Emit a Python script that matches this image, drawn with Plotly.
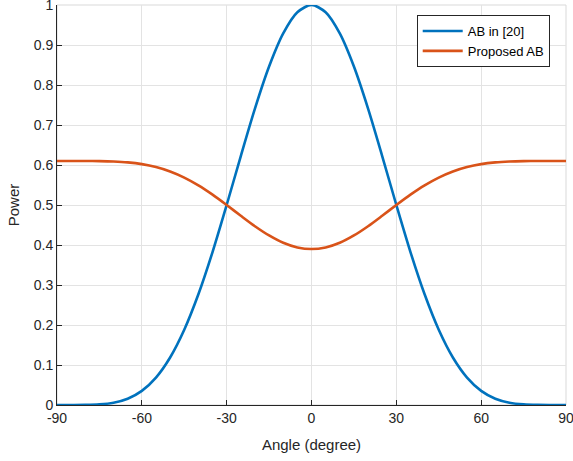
import plotly.graph_objects as go

angles = [-90, -85, -80, -75, -70, -65, -60, -55, -50, -45, -40, -35, -30, -25, -20, -15, -10, -5,
          0, 5, 10, 15, 20, 25, 30, 35, 40, 45, 50, 55, 60, 65, 70, 75, 80, 85, 90]

ab_half = [0.0, 0.0, 0.0002, 0.0015, 0.0057, 0.0157, 0.0354, 0.0686, 0.1188, 0.1882, 0.2768,
           0.3823, 0.5, 0.6224, 0.7409, 0.8461, 0.9289, 0.9818]
ab_ref = ab_half + [1.0] + ab_half[::-1]

prop_half = [0.61, 0.61, 0.61, 0.6097, 0.6087, 0.6065, 0.6022, 0.5949, 0.5839, 0.5686, 0.5491,
             0.5259, 0.5, 0.4731, 0.447, 0.4239, 0.4056, 0.394]
ab_prop = prop_half + [0.39] + prop_half[::-1]

x_ticks = [-90, -60, -30, 0, 30, 60, 90]
x_labels = ["-90", "-60", "-30", "0", "30", "60", "90"]
y_ticks = [0, 0.1, 0.2, 0.3, 0.4, 0.5, 0.6, 0.7, 0.8, 0.9, 1]
y_labels = ["0", "0.1", "0.2", "0.3", "0.4", "0.5", "0.6", "0.7", "0.8", "0.9", "1"]

fig = go.Figure()
fig.add_trace(go.Scatter(x=angles, y=ab_ref, mode="lines", name="AB in [20]",
                         line=dict(color="#0072BD", width=2.6, shape="spline", smoothing=0.8)))
fig.add_trace(go.Scatter(x=angles, y=ab_prop, mode="lines", name="Proposed AB",
                         line=dict(color="#D95319", width=2.6, shape="spline", smoothing=0.8)))

fig.add_shape(type="rect", xref="paper", yref="paper", x0=0, y0=0, x1=1, y1=1,
              line=dict(color="#d9d9d9", width=1), layer="below")

fig.update_layout(
    width=573, height=461,
    margin=dict(l=57, r=7, t=5, b=56, autoexpand=False),
    paper_bgcolor="white", plot_bgcolor="white",
    font=dict(family="Liberation Sans, Arial, sans-serif", size=13, color="#262626"),
    showlegend=True,
    legend=dict(x=0.968, y=0.975, xanchor="right", yanchor="top",
                bgcolor="white", bordercolor="#262626", borderwidth=1,
                font=dict(size=13, color="#000000"), tracegroupgap=0,
                itemwidth=40),
    xaxis=dict(range=[-90, 90], tickvals=x_ticks, ticktext=x_labels, ticks="inside", ticklen=5,
               tickcolor="#262626", showline=True, linecolor="#262626", linewidth=1,
               showgrid=True, gridcolor="#e3e3e3", gridwidth=1, zeroline=False,
               automargin=False, ticklabeloverflow="allow",
               title=dict(text="Angle (degree)", font=dict(size=15), standoff=14),
               tickfont=dict(size=14)),
    yaxis=dict(range=[0, 1], tickvals=y_ticks, ticktext=y_labels, ticks="inside", ticklen=5,
               tickcolor="#262626", showline=True, linecolor="#262626", linewidth=1,
               showgrid=True, gridcolor="#e3e3e3", gridwidth=1, zeroline=False,
               automargin=False, ticklabeloverflow="allow",
               title=dict(text="Power", font=dict(size=15), standoff=10),
               tickfont=dict(size=14)),
)

fig.write_html("out.html", config={"displayModeBar": False},
               post_script="document.body.style.margin='0';")
